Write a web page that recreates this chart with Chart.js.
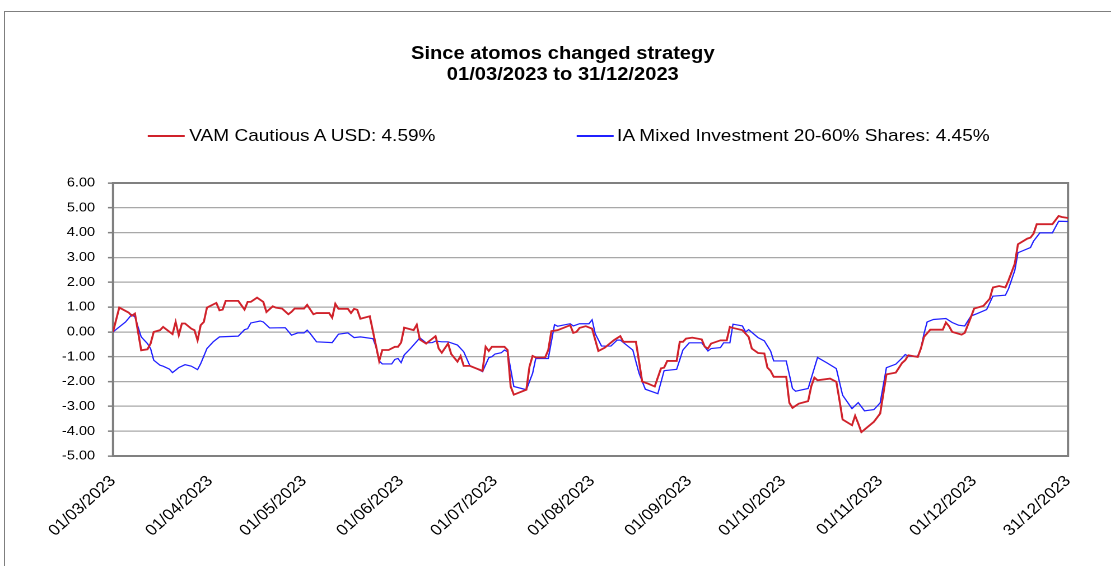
<!DOCTYPE html>
<html>
<head>
<meta charset="utf-8">
<script src="https://cdn.jsdelivr.net/npm/chart.js@4.4.1/dist/chart.umd.min.js"></script>
<style>
  html, body { margin: 0; padding: 0; background: #fff; overflow: hidden; }
  body { width: 1111px; height: 566px; position: relative; font-family: "Liberation Sans", Arial, sans-serif; }
  #frame { position: absolute; left: 4px; top: 11px; width: 1200px; height: 700px; border: 1.5px solid #7f7f7f; }
  /* the reference is drawn slightly stretched sideways, so the whole stage is too */
  #stage { position: absolute; left: 0; top: 0; width: 992px; height: 566px; transform: scaleX(1.12); transform-origin: 0 0; }
  #title { position: absolute; left: 0; top: 43px; width: 1005px; text-align: center; font-weight: bold; font-size: 18px; line-height: 21px; color: #000; }
  .item { position: absolute; top: 126px; height: 20px; font-size: 17px; line-height: 20px; white-space: nowrap; color: #000; }
  .swatch { position: absolute; left: 0; width: 33px; }
  #chartBox { position: absolute; left: 0; top: 0; width: 992px; height: 566px; }
</style>
</head>
<body>
<div id="frame"></div>
<div id="stage">
  <div id="title">Since atomos changed strategy<br>01/03/2023 to 31/12/2023</div>
  <div id="legend"></div>
  <div id="chartBox"><canvas id="perfChart"></canvas></div>
</div>
<script>
// x = days since 01/03/2023
const tickDays = [0, 31, 61, 92, 122, 153, 184, 214, 245, 275, 305]
const tickLabels = ["01/03/2023", "01/04/2023", "01/05/2023", "01/06/2023", "01/07/2023", "01/08/2023",
  "01/09/2023", "01/10/2023", "01/11/2023", "01/12/2023", "31/12/2023"]

const seriesNames = ["VAM Cautious A USD: 4.59%", "IA Mixed Investment 20-60% Shares: 4.45%"]
const seriesColors = ["#d0222b", "#2020ff"]

const vamDays = [
  0, 2, 5, 6, 7, 9, 11, 12, 13, 15,
  16, 19, 20, 21, 22, 23, 25, 26, 27, 28,
  29, 30, 33, 34, 35, 36, 40, 42, 43, 44,
  46, 48, 49, 51, 52, 54, 56, 57, 58, 61,
  62, 64, 65, 69, 70, 71, 72, 75, 76, 77,
  78, 79, 82, 85, 86, 88, 90, 91, 92, 93,
  96, 97, 98, 100, 103, 104, 105, 107, 108, 110,
  111, 112, 114, 116, 118, 119, 120, 121, 125, 126,
  127, 128, 132, 133, 134, 135, 138, 139, 140, 142,
  144, 146, 147, 148, 149, 151, 153, 155, 157, 160,
  162, 163, 167, 169, 171, 173, 175, 176, 177, 180,
  181, 182, 183, 185, 188, 189, 190, 191, 194, 196,
  197, 198, 201, 203, 204, 206, 208, 209, 210, 211,
  215, 216, 217, 219, 222, 223, 224, 225, 229, 231,
  232, 233, 236, 237, 238, 239, 243, 245, 247, 250,
  252, 253, 254, 257, 258, 259, 261, 265, 266, 267,
  268, 271, 272, 274, 275, 278, 280, 281, 283, 285,
  286, 288, 289, 292, 293, 294, 295, 300, 302, 303, 305]
const vamValues = [
  0, 0.98, 0.78, 0.65, 0.74, -0.74, -0.7, -0.47, 0, 0.07,
  0.2, -0.09, 0.4, -0.13, 0.34, 0.34, 0.13, 0.07, -0.34, 0.27,
  0.4, 0.98, 1.17, 0.87, 0.9, 1.25, 1.25, 0.9, 1.21, 1.21,
  1.38, 1.21, 0.8, 1.03, 0.98, 0.94, 0.71, 0.81, 0.94, 0.94,
  1.09, 0.71, 0.76, 0.76, 0.57, 1.13, 0.93, 0.93, 0.76, 0.93,
  0.89, 0.53, 0.63, -1.17, -0.73, -0.73, -0.6, -0.6, -0.43, 0.17,
  0.07, 0.29, -0.31, -0.47, -0.17, -0.67, -0.84, -0.47, -0.89, -1.2,
  -0.97, -1.37, -1.37, -1.47, -1.57, -0.6, -0.77, -0.6, -0.6, -0.73,
  -2.2, -2.53, -2.33, -1.4, -0.97, -1.03, -1.03, -0.73, 0.03, 0.07,
  0.17, 0.27, -0.04, 0, 0.16, 0.23, 0.13, -0.77, -0.64, -0.33,
  -0.17, -0.4, -0.4, -2.0, -2.09, -2.2, -1.47, -1.44, -1.17, -1.17,
  -0.4, -0.4, -0.27, -0.23, -0.3, -0.6, -0.67, -0.47, -0.34, -0.34,
  0.2, 0.16, 0.07, -0.2, -0.67, -0.85, -0.87, -1.44, -1.57, -1.81,
  -1.81, -2.86, -3.06, -2.89, -2.79, -2.19, -1.84, -1.95, -1.88, -2.01,
  -2.75, -3.53, -3.76, -3.38, -3.69, -4.04, -3.62, -3.29, -1.71, -1.64,
  -1.25, -1.14, -0.94, -1.01, -0.67, -0.2, 0.09, 0.09, 0.38, 0.23,
  0, -0.11, -0.04, 0.6, 0.94, 1.05, 1.34, 1.79, 1.85, 1.79,
  2.08, 2.75, 3.53, 3.76, 3.8, 3.96, 4.34, 4.34, 4.67, 4.63, 4.59]

const iaDays = [
  0, 2, 4, 6, 7, 9, 11, 12, 13, 15,
  16, 18, 19, 21, 23, 25, 27, 28, 30, 32,
  34, 40, 42, 43, 44, 47, 48, 50, 55, 57,
  59, 61, 62, 63, 65, 70, 72, 75, 77, 79,
  83, 84, 85, 86, 89, 90, 91, 92, 93, 95,
  98, 100, 102, 103, 105, 107, 110, 112, 114, 116,
  118, 120, 121, 122, 124, 125, 126, 128, 132, 134,
  135, 139, 141, 142, 146, 147, 149, 152, 153, 154,
  156, 159, 161, 162, 164, 166, 168, 170, 174, 176,
  180, 182, 184, 188, 190, 191, 194, 195, 197, 198,
  201, 202, 203, 206, 208, 210, 211, 215, 217, 218,
  222, 225, 228, 231, 233, 236, 238, 240, 243, 245,
  247, 250, 252, 253, 254, 257, 258, 259, 260, 262,
  266, 268, 270, 272, 274, 276, 279, 281, 285, 286,
  288, 289, 293, 294, 296, 300, 302, 305]
const iaValues = [
  0, 0.2, 0.4, 0.7, 0.6, -0.2, -0.47, -0.67, -1.14, -1.34,
  -1.38, -1.5, -1.64, -1.44, -1.32, -1.38, -1.52, -1.28, -0.67, -0.4,
  -0.2, -0.17, 0.09, 0.13, 0.36, 0.44, 0.4, 0.16, 0.17, -0.13,
  -0.04, -0.04, 0.07, -0.07, -0.4, -0.43, -0.09, -0.04, -0.23, -0.2,
  -0.27, -0.6, -1.17, -1.29, -1.29, -1.11, -1.07, -1.24, -0.93, -0.67,
  -0.24, -0.44, -0.43, -0.37, -0.4, -0.4, -0.53, -0.8, -1.37, -1.47,
  -1.6, -1.04, -1.0, -0.89, -0.84, -0.73, -0.8, -2.2, -2.33, -1.67,
  -1.07, -1.07, 0.29, 0.23, 0.33, 0.24, 0.33, 0.33, 0.49, -0.07,
  -0.57, -0.57, -0.33, -0.33, -0.53, -0.73, -1.67, -2.31, -2.49, -1.56,
  -1.51, -0.73, -0.44, -0.44, -0.77, -0.67, -0.63, -0.44, -0.44, 0.31,
  0.24, 0, 0.09, -0.23, -0.36, -0.77, -1.17, -1.17, -2.28, -2.39,
  -2.28, -1.03, -1.25, -1.48, -2.55, -3.09, -2.85, -3.18, -3.13, -2.86,
  -1.44, -1.3, -1.05, -0.91, -0.98, -0.98, -0.67, -0.07, 0.4, 0.5,
  0.54, 0.38, 0.27, 0.24, 0.64, 0.74, 0.9, 1.44, 1.48, 1.74,
  2.48, 3.19, 3.4, 3.66, 3.99, 3.99, 4.46, 4.45]

const fontFamily = '"Liberation Sans", Arial, sans-serif'

// legend built from the series names, laid out like the original (not centred)
const legendSpots = [{ left: 132, text: 169, lineTop: 8.5, lineH: 2 }, { left: 515, text: 551, lineTop: 9, lineH: 1.5 }]
const legendEl = document.getElementById("legend")
seriesNames.forEach((name, i) => {
  const spot = legendSpots[i]
  const item = document.createElement("div")
  item.className = "item"
  item.style.left = spot.left + "px"
  const sw = document.createElement("div")
  sw.className = "swatch"
  sw.style.top = spot.lineTop + "px"
  sw.style.height = spot.lineH + "px"
  sw.style.background = seriesColors[i]
  const label = document.createElement("span")
  label.style.position = "absolute"
  label.style.left = (spot.text - spot.left) + "px"
  label.textContent = name
  item.appendChild(sw)
  item.appendChild(label)
  legendEl.appendChild(item)
})

// grey box round the plot area
const plotFrame = {
  id: "plotFrame",
  beforeDatasetsDraw(chart) {
    const { ctx, chartArea: a } = chart
    ctx.save()
    ctx.strokeStyle = "#808080"
    ctx.lineWidth = 2
    ctx.strokeRect(a.left, a.top, a.right - a.left, a.bottom - a.top)
    ctx.restore()
  },
}

const ctx = document.getElementById("perfChart")
new Chart(ctx, {
  type: "line",
  data: {
    datasets: [
      {
        label: seriesNames[0],
        data: vamDays.map((d, i) => ({ x: d, y: vamValues[i] })),
        borderColor: seriesColors[0],
        borderWidth: 1.8,
        pointRadius: 0,
        tension: 0,
        fill: false,
      },
      {
        label: seriesNames[1],
        data: iaDays.map((d, i) => ({ x: d, y: iaValues[i] })),
        borderColor: seriesColors[1],
        borderWidth: 1.2,
        pointRadius: 0,
        tension: 0,
        fill: false,
      },
    ],
  },
  options: {
    responsive: true,
    maintainAspectRatio: false,
    animation: false,
    devicePixelRatio: 2,
    layout: { padding: { left: 0, top: 183, right: 38.4, bottom: 0 } },
    plugins: {
      legend: { display: false },
      title: { display: false },
      tooltip: { enabled: false },
    },
    scales: {
      x: {
        type: "linear",
        min: 0,
        max: 305,
        afterBuildTicks: (s) => { s.ticks = tickDays.map((v) => ({ value: v })) },
        afterFit: (s) => { s.height = 110 },
        ticks: {
          autoSkip: false,
          minRotation: 45,
          maxRotation: 45,
          padding: 16,
          color: "#000",
          font: { family: fontFamily, size: 15.5 },
          callback: (v) => tickLabels[tickDays.indexOf(v)],
        },
        grid: { display: false, drawTicks: false },
        border: { display: true, color: "#808080", width: 2 },
      },
      y: {
        min: -5,
        max: 6,
        afterFit: (s) => { s.width = 100.9 },
        ticks: {
          stepSize: 1,
          padding: 11.5,
          color: "#000",
          font: { family: fontFamily, size: 13 },
          callback: (v) => v.toFixed(2),
        },
        grid: { color: "#a8a8a8", lineWidth: 1.3, tickLength: 4.5, tickColor: "#808080", tickWidth: 1.5 },
        border: { color: "#808080", width: 2 },
      },
    },
  },
  plugins: [plotFrame],
})
</script>
</body>
</html>
